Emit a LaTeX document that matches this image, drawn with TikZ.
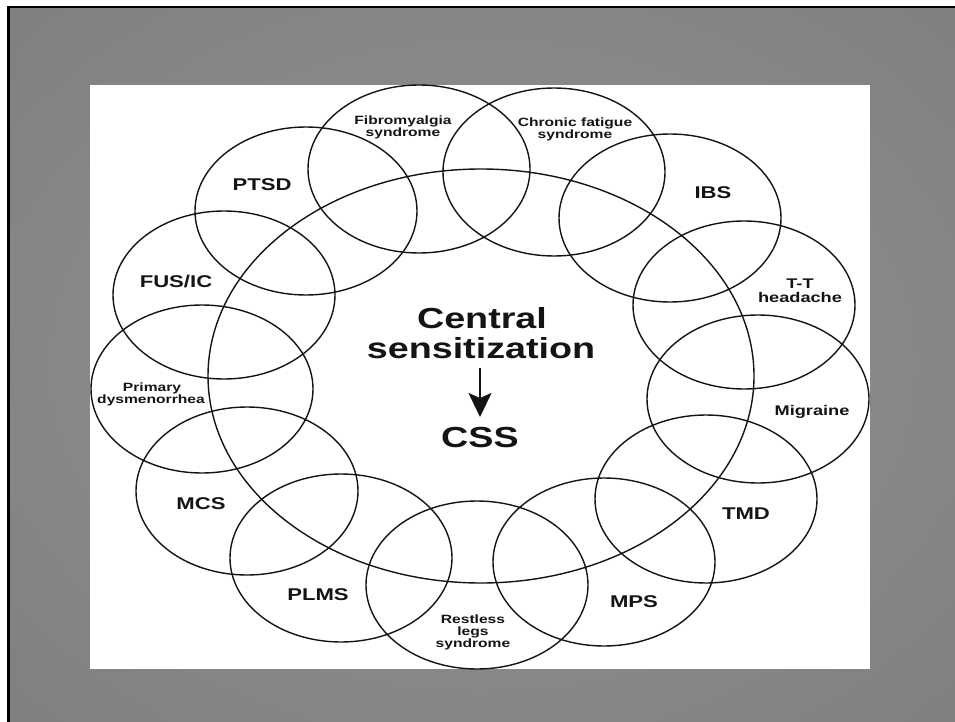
\documentclass[tikz,border=0pt]{standalone}
\usepackage{fontspec}
\setmainfont{Liberation Sans}
\newfontfamily\wideface{Liberation Sans}[FakeStretch=1.3]
\usetikzlibrary{arrows.meta,shapes.geometric}
\definecolor{bgin}{RGB}{142,142,142}
\definecolor{bgmid}{RGB}{122,122,122}
\definecolor{bgout}{RGB}{98,98,98}
\definecolor{inkc}{RGB}{20,20,20}
\pgfdeclareradialshading{slidebg}{\pgfpoint{0bp}{0bp}}{color(0bp)=(bgin); color(10bp)=(bgin); color(45bp)=(bgmid); color(72bp)=(bgout)}
\begin{document}
\begin{tikzpicture}[x=1pt,y=-1pt,
  ringE/.style={ellipse, draw=inkc, line width=1.4pt, minimum width=222pt, minimum height=168pt, inner sep=0pt, outer sep=0pt},
  bigE/.style={ellipse, draw=inkc, line width=1.4pt, minimum width=546pt, minimum height=414pt, inner sep=0pt, outer sep=0pt},
  lblS/.style={font=\wideface\bfseries\fontsize{12}{12}\selectfont, anchor=base, inner sep=0pt, text=inkc},
  lblT/.style={font=\wideface\bfseries\fontsize{14}{14}\selectfont, anchor=base, inner sep=0pt, text=inkc},
  lblM/.style={font=\wideface\bfseries\fontsize{17}{17}\selectfont, anchor=base, inner sep=0pt, text=inkc},
  lblL/.style={font=\wideface\bfseries\fontsize{29}{29}\selectfont, anchor=base, inner sep=0pt, text=inkc}]
\useasboundingbox (0,0) rectangle (955,722);
% slide background
\fill[white] (0,0) rectangle (955,722);
\fill[black] (7,6) rectangle (955,722);
\shade[shading=slidebg] (10,9) rectangle (955,722);
\fill[white] (90,85) rectangle (870,669);
% central ellipse
\node[bigE] (core) at (481,376) {};
% ring of ellipses
\node[ringE] (fib) at (419,169) {};
\node[ringE] (cfs) at (554,172) {};
\node[ringE] (ibs) at (670,218) {};
\node[ringE] (tth) at (744,305) {};
\node[ringE] (mig) at (758,399) {};
\node[ringE] (tmd) at (706,499) {};
\node[ringE] (mps) at (604,562) {};
\node[ringE] (rls) at (477,585) {};
\node[ringE] (plms) at (341,558) {};
\node[ringE] (mcs) at (247,491) {};
\node[ringE] (pdys) at (202,389) {};
\node[ringE] (fus) at (224,295) {};
\node[ringE] (ptsd) at (306,211) {};
% labels
\node[lblS] (fibA) at (403,125) {Fibromyalgia};
\node[lblS] (fibB) at (403,137) {syndrome};
\node[lblS] (cfsA) at (575,127) {Chronic fatigue};
\node[lblS] (cfsB) at (575,139) {syndrome};
\node[lblM] (ibsT) at (713,198) {IBS};
\node[lblT] (tthA) at (800,288) {T-T};
\node[lblT] (tthB) at (800,302) {headache};
\node[lblT] (migT) at (812,415) {Migraine};
\node[lblM] (tmdT) at (746,519) {TMD};
\node[lblM] (mpsT) at (634,607) {MPS};
\node[lblS] (rlsA) at (473,623) {Restless};
\node[lblS] (rlsB) at (473,635) {legs};
\node[lblS] (rlsC) at (473,647) {syndrome};
\node[lblM] (plmsT) at (318,600) {PLMS};
\node[lblM] (mcsT) at (201,509) {MCS};
\node[lblS] (pdA) at (152,391) {Primary};
\node[lblS] (pdB) at (151,403) {dysmenorrhea};
\node[lblM] (fusT) at (176,287) {FUS/IC};
\node[lblM] (ptsdT) at (262,191) {PTSD};
% centre text
\node[lblL] (cenA) at (482,328) {Central};
\node[lblL] (cenB) at (481,358) {sensitization};
\node[lblL] (css) at (480,447) {CSS};
\coordinate (arrTop) at (480,368);
\coordinate (arrTip) at (480,417);
\draw[inkc, line width=2pt, -{Stealth[length=24pt,width=23pt,inset=5pt]}] (arrTop) -- (arrTip);
\end{tikzpicture}
\end{document}
